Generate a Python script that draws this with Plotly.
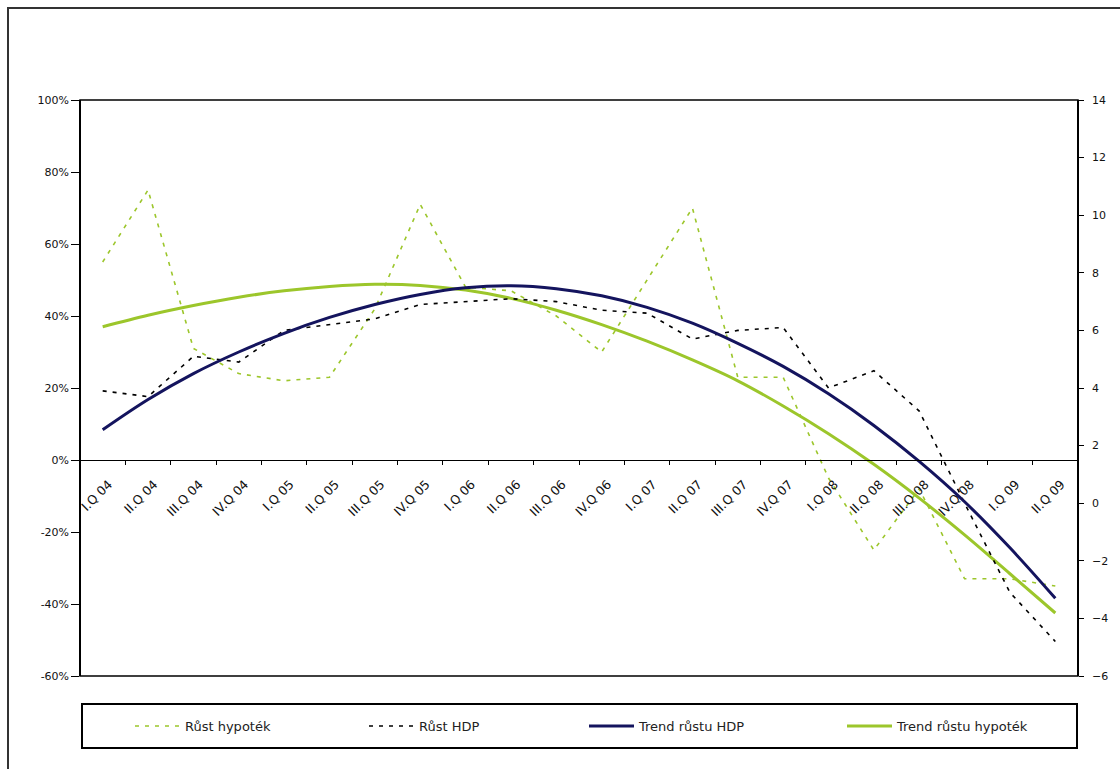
import plotly.graph_objects as go

# Quarterly categories
quarters = [
    "I.Q 04", "II.Q 04", "III.Q 04", "IV.Q 04",
    "I.Q 05", "II.Q 05", "III.Q 05", "IV.Q 05",
    "I.Q 06", "II.Q 06", "III.Q 06", "IV.Q 06",
    "I.Q 07", "II.Q 07", "III.Q 07", "IV.Q 07",
    "I.Q 08", "II.Q 08", "III.Q 08", "IV.Q 08",
    "I.Q 09", "II.Q 09",
]

# Mortgage growth, % y/y (left axis)
rust_hypotek = [55, 75, 31, 24, 22, 23, 42, 71,
                48, 47, 40, 30, 50, 70, 23, 23,
                -5, -25, -8, -33, -33, -35]

# GDP growth, % (right axis)
rust_hdp = [3.9, 3.7, 5.1, 4.9, 6.0, 6.2, 6.4, 6.9,
            7.0, 7.1, 7.0, 6.7, 6.6, 5.7, 6.0, 6.1,
            4.0, 4.6, 3.2, 0.0, -3.1, -4.8]

# Trend of GDP growth (right axis)
trend_hdp = [2.55, 3.6, 4.5, 5.25, 5.9, 6.45, 6.9, 7.25,
             7.48, 7.55, 7.45, 7.2, 6.8, 6.25, 5.55, 4.75,
             3.8, 2.7, 1.45, 0.05, -1.55, -3.3]

# Trend of mortgage growth (left axis)
trend_hypotek = [37, 40.2, 42.9, 45.2, 47, 48.2, 48.8, 48.5,
                 47.2, 44.9, 41.6, 37.6, 33, 27.8, 22, 15,
                 7.3, -1.2, -10.6, -20.8, -31.6, -42.5]

# Axis ticks
left_ticks = [-60, -40, -20, 0, 20, 40, 60, 80, 100]
left_ticktext = ["-60%", "-40%", "-20%", "0%", "20%", "40%", "60%", "80%", "100%"]
right_ticks = [-6, -4, -2, 0, 2, 4, 6, 8, 10, 12, 14]

W, H = 1120, 769
FONT = "DejaVu Sans, Verdana, sans-serif"
GREEN = "#9CC62B"
NAVY = "#14145E"

# plot area in pixels
PX0, PX1, PY0, PY1 = 80, 1078, 100, 676
xdom = [PX0 / W, PX1 / W]
ydom = [1 - PY1 / H, 1 - PY0 / H]
zero_pos = ydom[0] + (0 - (-60)) / 160 * (ydom[1] - ydom[0])

fig = go.Figure()

fig.add_trace(go.Scatter(
    x=quarters, y=rust_hypotek, name="Růst hypoték", mode="lines",
    line=dict(color=GREEN, width=1.6, dash="4px,6px"),
    yaxis="y", legend="legend",
))
fig.add_trace(go.Scatter(
    x=quarters, y=rust_hdp, name="Růst HDP", mode="lines",
    line=dict(color="#000000", width=1.6, dash="4px,6px"),
    yaxis="y2", legend="legend2",
))
fig.add_trace(go.Scatter(
    x=quarters, y=trend_hdp, name="Trend růstu HDP", mode="lines",
    line=dict(color=NAVY, width=3, shape="spline", smoothing=1.0),
    yaxis="y2", legend="legend3",
))
fig.add_trace(go.Scatter(
    x=quarters, y=trend_hypotek, name="Trend růstu hypoték", mode="lines",
    line=dict(color=GREEN, width=3, shape="spline", smoothing=1.0),
    yaxis="y", legend="legend4",
))

ytickfont = dict(family=FONT, size=11, color="#111111")
xtickfont = dict(family=FONT, size=12.5, color="#111111")

legend_y = 1 - 726 / H
def legend_at(px):
    return dict(
        x=px / W, y=legend_y, xanchor="left", yanchor="middle",
        orientation="h", bgcolor="rgba(0,0,0,0)",
        font=dict(family=FONT, size=13, color="#222222"),
        itemwidth=45,
    )

fig.update_layout(
    width=W, height=H,
    margin=dict(l=0, r=0, t=0, b=0),
    paper_bgcolor="white", plot_bgcolor="white",
    showlegend=True,
    legend=legend_at(130),
    legend2=legend_at(364),
    legend3=legend_at(584),
    legend4=legend_at(842),
    xaxis=dict(
        domain=xdom, type="category", range=[-0.5, len(quarters) - 0.5],
        anchor="free", position=zero_pos,
        showline=True, linecolor="#000000", linewidth=1.3,
        ticks="outside", ticklen=4, tickcolor="#000000", tickwidth=1.3,
        tickson="boundaries", tickangle=-45, tickfont=xtickfont,
        ticklabelshift=6, ticklabelstandoff=11,
        showgrid=False, zeroline=False, automargin=False,
    ),
    xaxis2=dict(
        domain=xdom, overlaying="x", range=[-0.5, len(quarters) - 0.5],
        anchor="free", position=zero_pos,
        tickvals=[i - 0.5 for i in range(len(quarters) + 1)],
        ticks="inside", ticklen=4, tickcolor="#000000", tickwidth=1.3,
        showticklabels=False, showline=False, showgrid=False,
        zeroline=False, automargin=False,
    ),
    yaxis=dict(
        domain=ydom, range=[-60, 100], anchor="free", position=xdom[0],
        tickvals=left_ticks, ticktext=left_ticktext,
        ticks="outside", ticklen=8, tickcolor="#000000", tickwidth=1.3,
        showline=True, linecolor="#000000", linewidth=1.5,
        tickfont=ytickfont, showgrid=False, zeroline=False, automargin=False,
    ),
    yaxis2=dict(
        domain=ydom, range=[-6, 14], overlaying="y", side="right",
        anchor="free", position=xdom[1],
        tickvals=right_ticks,
        ticks="outside", ticklen=5, tickcolor="#000000", tickwidth=1.3,
        ticklabelstandoff=6,
        showline=True, linecolor="#000000", linewidth=1.5,
        tickfont=ytickfont, showgrid=False, zeroline=False, automargin=False,
    ),
    yaxis3=dict(
        domain=ydom, range=[-6, 14], overlaying="y", side="right",
        anchor="free", position=xdom[1],
        tickvals=right_ticks,
        ticks="inside", ticklen=4, tickcolor="#000000", tickwidth=1.3,
        showticklabels=False, showline=False, showgrid=False,
        zeroline=False, automargin=False,
    ),
    shapes=[
        # plot area frame
        dict(type="rect", xref="paper", yref="paper",
             x0=xdom[0], x1=xdom[1], y0=ydom[0], y1=ydom[1],
             line=dict(color="#000000", width=1.5), layer="above"),
        # legend frame
        dict(type="rect", xref="paper", yref="paper",
             x0=82 / W, x1=1077 / W, y0=1 - 748 / H, y1=1 - 704 / H,
             line=dict(color="#000000", width=2)),
        # outer chart frame
        dict(type="rect", xref="paper", yref="paper",
             x0=8 / W, x1=1.02, y0=-0.02, y1=1 - 8 / H,
             line=dict(color="#333333", width=2)),
    ],
)

fig.write_html("out.html")
